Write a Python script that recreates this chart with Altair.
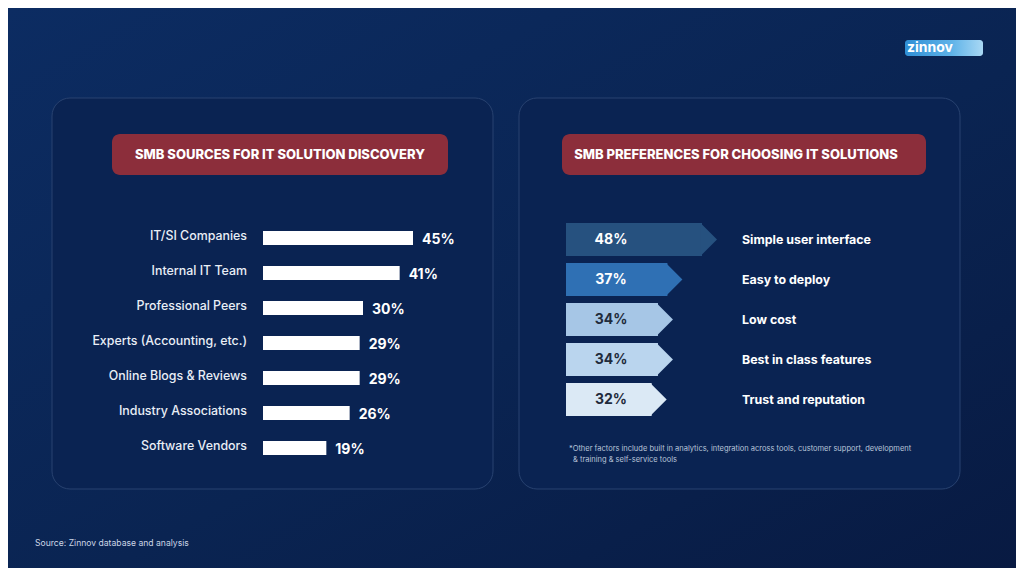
import altair as alt
import pandas as pd

# ---------------- data ----------------
sources = ["IT/SI Companies", "Internal IT Team", "Professional Peers",
           "Experts (Accounting, etc.)", "Online Blogs & Reviews",
           "Industry Associations", "Software Vendors"]
source_pct = [45, 41, 30, 29, 29, 26, 19]

prefs = ["Simple user interface", "Easy to deploy", "Low cost",
         "Best in class features", "Trust and reputation"]
pref_pct = [48, 37, 34, 34, 32]

left_title = "SMB SOURCES FOR IT SOLUTION DISCOVERY"
right_title = "SMB PREFERENCES FOR CHOOSING IT SOLUTIONS"
footnote_1 = "*Other factors include built in analytics, integration across tools, customer support, development"
footnote_2 = "& training & self-service tools"
source_note = "Source: Zinnov database and analysis"
logo_text = "zinnov"

# ---------------- styles ----------------
W, H = 1008, 560
FONT = "Inter"
arrow_colors = ["#26517f", "#2f70b4", "#a6c6e6", "#bad5ee", "#dbe9f5"]
arrow_text_colors = ["#ffffff", "#ffffff", "#1f2b3b", "#1f2b3b", "#1f2b3b"]

one = alt.Data(values=[{"k": 1}])

left_df = pd.DataFrame({"source": sources, "pct": source_pct})
right_df = pd.DataFrame({"pref": prefs, "pct": pref_pct})

bg = alt.Chart(one).mark_rect(
    color=alt.Gradient(gradient="linear", x1=0, y1=0, x2=1, y2=1,
                       stops=[alt.GradientStop(color="#0c2c62", offset=0),
                              alt.GradientStop(color="#0a2452", offset=0.55),
                              alt.GradientStop(color="#081a42", offset=1)])
).encode(x=alt.value(0), x2=alt.value(W), y=alt.value(0), y2=alt.value(H))


def panel(x0, x1):
    return alt.Chart(one).mark_rect(
        fill="#0a2352", stroke="#284270", strokeWidth=1, cornerRadius=18
    ).encode(x=alt.value(x0), x2=alt.value(x1), y=alt.value(90), y2=alt.value(481))


def title_box(x0, x1):
    return alt.Chart(one).mark_rect(fill="#8c2e3b", cornerRadius=8).encode(
        x=alt.value(x0), x2=alt.value(x1), y=alt.value(126), y2=alt.value(167))


def title_text(txt, xc):
    return alt.Chart(one).mark_text(
        text=txt, font=FONT, fontSize=13, fontWeight=800, color="white",
        align="center", baseline="middle"
    ).encode(x=alt.value(xc), y=alt.value(147))


def note(txt, x, y, size, color):
    return alt.Chart(one).mark_text(
        text=txt, font=FONT, fontSize=size, color=color, align="left",
        baseline="middle"
    ).encode(x=alt.value(x), y=alt.value(y))


# ---------------- left chart ----------------
ysc_l = alt.Scale(domain=sources, range=[212.5, 457.5], paddingInner=0, paddingOuter=0)
xsc_l = alt.Scale(domain=[0, 45], range=[255, 405], nice=False, zero=True)

bars = alt.Chart(left_df).mark_bar(color="white", size=14).encode(
    x=alt.X("pct:Q", scale=xsc_l, axis=None),
    y=alt.Y("source:N", scale=ysc_l, axis=None, sort=None))

cat_labels = alt.Chart(left_df).mark_text(
    font=FONT, fontSize=12.4, fontWeight=500, color="#e9eef6", align="right",
    baseline="middle", dy=-2
).encode(
    x=alt.value(239),
    y=alt.Y("source:N", scale=ysc_l, axis=None, sort=None),
    text="source:N")

val_labels = alt.Chart(left_df).transform_calculate(
    lab="datum.pct + '%'"
).mark_text(
    font=FONT, fontSize=14, fontWeight="bold", color="white", align="left",
    baseline="middle", dx=9, dy=2
).encode(
    x=alt.X("pct:Q", scale=xsc_l, axis=None),
    y=alt.Y("source:N", scale=ysc_l, axis=None, sort=None),
    text="lab:N")

# ---------------- right chart ----------------
ysc_r = alt.Scale(domain=prefs, range=[211.5, 411.5], paddingInner=0, paddingOuter=0)
xsc_r = alt.Scale(domain=[0, 48], range=[558, 709], nice=False, zero=True)
col_r = alt.Scale(domain=prefs, range=arrow_colors)
tcol_r = alt.Scale(domain=prefs, range=arrow_text_colors)

arrow_body = alt.Chart(right_df).transform_calculate(start="0").mark_bar(
    size=33, x2Offset=-15
).encode(
    x=alt.X("start:Q", scale=xsc_r, axis=None),
    x2="pct:Q",
    y=alt.Y("pref:N", scale=ysc_r, axis=None, sort=None),
    color=alt.Color("pref:N", scale=col_r, legend=None))

arrow_tip = alt.Chart(right_df).mark_point(
    shape="M-1,-1L0,0L-1,1Z", size=33 * 33, filled=True, opacity=1, strokeWidth=0
).encode(
    x=alt.X("pct:Q", scale=xsc_r, axis=None),
    y=alt.Y("pref:N", scale=ysc_r, axis=None, sort=None),
    color=alt.Color("pref:N", scale=col_r, legend=None))

arrow_pct = alt.Chart(right_df).transform_calculate(
    lab="datum.pct + '%'"
).mark_text(
    font=FONT, fontSize=14, fontWeight="bold", align="center", baseline="middle"
).encode(
    x=alt.value(603),
    y=alt.Y("pref:N", scale=ysc_r, axis=None, sort=None),
    text="lab:N",
    color=alt.Color("pref:N", scale=tcol_r, legend=None))

arrow_labels = alt.Chart(right_df).mark_text(
    font=FONT, fontSize=12.4, fontWeight="bold", color="white", align="left",
    baseline="middle"
).encode(
    x=alt.value(734),
    y=alt.Y("pref:N", scale=ysc_r, axis=None, sort=None),
    text="pref:N")

logo_box = alt.Chart(one).mark_rect(
    color=alt.Gradient(gradient="linear", x1=0, y1=0, x2=1, y2=0,
                       stops=[alt.GradientStop(color="#2f8fd6", offset=0),
                              alt.GradientStop(color="#5fb3e8", offset=0.6),
                              alt.GradientStop(color="#a9d8f4", offset=1)]),
    cornerRadius=3
).encode(x=alt.value(897), x2=alt.value(975), y=alt.value(32), y2=alt.value(48))

logo = alt.Chart(one).mark_text(
    text=logo_text, font=FONT, fontSize=14, fontWeight="bold", color="white",
    align="left", baseline="middle"
).encode(x=alt.value(899), y=alt.value(40))

chart = alt.layer(
    bg, panel(44, 485), panel(511, 952),
    title_box(104, 440), title_box(554, 918),
    title_text(left_title, 272), title_text(right_title, 728),
    bars, cat_labels, val_labels,
    arrow_body, arrow_tip, arrow_pct, arrow_labels,
    note(footnote_1, 561, 441, 7.5, "#b9c5d9"),
    note(footnote_2, 565, 452, 7.5, "#b9c5d9"),
    note(source_note, 27, 535, 8.6, "#cdd6e6"),
    logo_box, logo
).resolve_scale(
    x="independent", y="independent", color="independent"
).properties(
    width=W, height=H, padding=0, autosize="none", background="#0b2558"
).configure_view(stroke=None)

chart.save("out.html", embed_options={"renderer": "svg", "actions": False})
